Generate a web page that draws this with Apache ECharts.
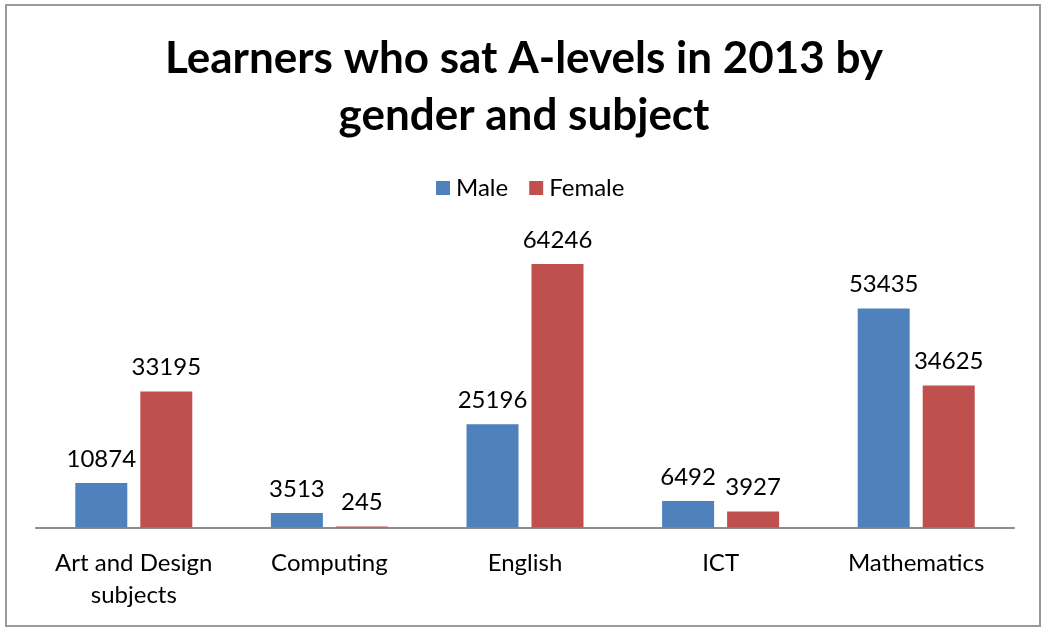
<!DOCTYPE html>
<html>
<head>
<meta charset="utf-8">
<script src="https://cdn.jsdelivr.net/npm/echarts@6/dist/echarts.min.js"></script>
<style>
  html, body { margin: 0; padding: 0; background: #fff; }
  #chart { width: 1042px; height: 628px; }
</style>
</head>
<body>
<div id="chart"></div>
<script>
// A-level entries in 2013, by subject and gender
const subjects = ['Art and Design subjects', 'Computing', 'English', 'ICT', 'Mathematics'];
const male = [10874, 3513, 25196, 6492, 53435];
const female = [33195, 245, 64246, 3927, 34625];

const FONT = 'Lato, "Open Sans", "Liberation Sans", sans-serif';

const chart = echarts.init(document.getElementById('chart'), null, { renderer: 'canvas' });

const labelStyle = {
  show: true,
  position: 'top',
  distance: 12,
  color: '#000',
  fontFamily: FONT,
  fontSize: 24
};

chart.setOption({
  animation: false,
  backgroundColor: '#fff',
  title: {
    text: 'Learners who sat A-levels in 2013 by\ngender and subject',
    left: 519,
    textAlign: 'center',
    top: 25,
    textStyle: {
      fontFamily: FONT,
      fontSize: 44,
      fontWeight: 'bold',
      color: '#000',
      lineHeight: 57
    }
  },
  legend: {
    top: 171,
    left: 431,
    itemWidth: 14,
    itemHeight: 14,
    itemGap: 21,
    icon: 'rect',
    textStyle: { fontFamily: FONT, fontSize: 24, color: '#000', padding: [0, 0, 0, 1] },
    data: ['Male', 'Female']
  },
  grid: { left: 36, right: 28, top: 240.5, bottom: 100.5, containLabel: false },
  xAxis: {
    type: 'category',
    data: subjects,
    axisLine: { show: true, lineStyle: { color: '#8c8c8c', width: 2 } },
    axisTick: { show: false },
    axisLabel: {
      margin: 20,
      color: '#000',
      fontFamily: FONT,
      fontSize: 24,
      lineHeight: 32,
      interval: 0,
      formatter: v => v.replace(' subjects', '\nsubjects')
    }
  },
  yAxis: {
    type: 'value',
    min: 0,
    max: 70000,
    show: false,
    splitLine: { show: false }
  },
  graphic: [{
    type: 'rect',
    shape: { x: 6, y: 5, width: 1034, height: 621 },
    style: { fill: 'none', stroke: '#9a9a9a', lineWidth: 2 },
    silent: true
  }],
  series: [
    {
      name: 'Male',
      type: 'bar',
      data: male,
      barWidth: 52,
      barGap: '25%',
      itemStyle: { color: '#4F81BD' },
      label: labelStyle
    },
    {
      name: 'Female',
      type: 'bar',
      data: female,
      barWidth: 52,
      itemStyle: { color: '#C0504D' },
      label: labelStyle
    }
  ]
});
</script>
</body>
</html>
